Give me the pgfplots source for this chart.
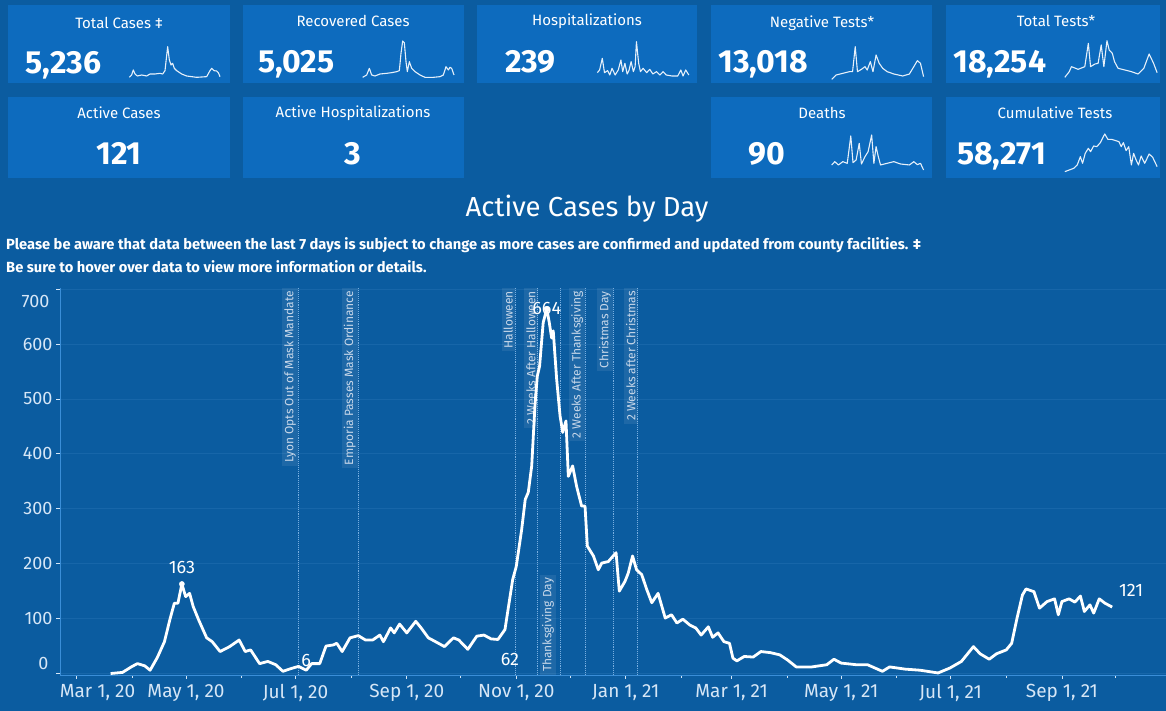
\documentclass[border=0pt]{standalone}
\usepackage{fontspec}
\setmainfont{Fira Sans}
\usepackage{pgfplots}
\pgfplotsset{compat=1.18}
\definecolor{pagebg}{HTML}{0B5CA0}
\definecolor{cardbg}{HTML}{0D6BBE}
\definecolor{axisc}{HTML}{3A8ED8}
\definecolor{gridc}{HTML}{1766A9}
\definecolor{tickc}{HTML}{D6E6F6}
\definecolor{evline}{HTML}{78AEE0}
\definecolor{evtext}{HTML}{C8D8EA}
\definecolor{sparkc}{HTML}{E6F0FA}

\tikzset{evlab/.style={font=\fontsize{12}{14}\selectfont, text=evtext, fill=white, fill opacity=0.08, text opacity=1, inner xsep=3pt, inner ysep=2pt, rotate=90},
  dlab/.style={text=white, font=\fontsize{18}{21}\selectfont},
  ctitle/.style={text=white, font=\fontsize{15}{18}\selectfont},
  cval/.style={text=white, font=\fontsize{32}{36}\selectfont\bfseries, inner sep=0pt}}

% #1 left x (pt), #2 bottom y (pt, from page bottom), #3 width, #4 height, #5-#8 limits, #9 data
\newcommand{\spark}[9]{%
  \begin{axis}[at={(#1pt,#2pt)}, anchor=south west, width=#3pt, height=#4pt,
    scale only axis, hide axis, xmin=#5, xmax=#6, ymin=#7, ymax=#8, clip=false]
    \addplot[sparkc, line width=1.1pt, line join=round] coordinates {#9};
  \end{axis}}

\begin{document}
\begin{tikzpicture}[x=1pt,y=1pt]
\useasboundingbox (0,0) rectangle (1166,711);
\fill[pagebg] (0,0) rectangle (1166,711);
\foreach \a/\b/\c/\d in {8/5/230/83, 243/5/464/83, 477/5/697/83, 711/5/932/83, 946/5/1160/83, 8/97/230/178, 243/97/464/178, 711/97/932/178, 946/97/1160/178}
  \fill[cardbg] (\a,{711-\b}) rectangle (\c,{711-\d});

\node[ctitle] at (119,{711-23}) {Total Cases ‡};
\node[ctitle] at (353,{711-21}) {Recovered Cases};
\node[ctitle] at (587,{711-21}) {Hospitalizations};
\node[ctitle] at (822,{711-23}) {Negative Tests*};
\node[ctitle] at (1056,{711-21}) {Total Tests*};
\node[ctitle] at (119,{711-113}) {Active Cases};
\node[ctitle] at (353,{711-113}) {Active Hospitalizations};
\node[ctitle] at (822,{711-113}) {Deaths};
\node[ctitle] at (1055,{711-113}) {Cumulative Tests};

\node[cval, anchor=base west] at (25,{711-74}) {5,236};
\node[cval, anchor=base west] at (258,{711-73}) {5,025};
\node[cval, anchor=base west] at (505,{711-73}) {239};
\node[cval, anchor=base west] at (718,{711-73}) {13,018};
\node[cval, anchor=base west] at (953,{711-73}) {18,254};
\node[cval, anchor=base] at (119,{711-165}) {121};
\node[cval, anchor=base] at (353,{711-165}) {3};
\node[cval, anchor=base] at (767,{711-165}) {90};
\node[cval, anchor=base west] at (957,{711-165}) {58,271};

% sparklines
\spark{128.33}{631}{91.67}{40}{385}{660}{0}{120}{(388,8) (395,15) (400,30) (405,18) (412,12) (425,15) (440,12) (450,18) (465,18) (480,20) (488,18) (495,28) (503,100) (508,60) (513,45) (518,50) (523,35) (530,28) (545,18) (560,12) (590,8) (620,10) (630,28) (635,35) (642,28) (650,27) (655,22) (660,10)}
\spark{361.67}{631}{93.33}{40}{1085}{1365}{0}{120}{(1088,8) (1100,15) (1108,35) (1115,15) (1125,12) (1140,18) (1160,20) (1175,22) (1190,25) (1198,28) (1203,80) (1208,117) (1213,112) (1218,55) (1222,25) (1228,55) (1235,35) (1245,25) (1260,15) (1275,8) (1300,8) (1320,10) (1330,15) (1338,40) (1345,30) (1350,38) (1355,35) (1362,15)}
\spark{596.5}{631}{93.2}{40}{285}{495}{0}{120}{(287,22) (292,30) (298,65) (303,22) (310,28) (315,15) (320,35) (327,15) (334,30) (340,60) (344,25) (349,50) (354,18) (358,28) (363,55) (368,25) (372,40) (375,115) (380,50) (384,25) (390,35) (398,22) (405,32) (412,18) (420,25) (428,15) (435,25) (442,15) (455,12) (468,12) (475,30) (480,12) (486,30) (493,15)}
\spark{831.7}{631}{93.2}{40}{815}{1025}{0}{120}{(815,2) (825,15) (840,20) (855,25) (862,25) (868,100) (873,25) (882,32) (890,40) (895,30) (902,55) (908,25) (915,75) (922,50) (930,35) (940,25) (955,18) (975,12) (990,18) (1000,40) (1008,58) (1015,50) (1022,10)}
\spark{1064.8}{631}{93.2}{40}{1340}{1550}{0}{120}{(1340,8) (1350,25) (1355,40) (1370,32) (1385,40) (1393,110) (1398,40) (1408,48) (1415,50) (1422,105) (1428,40) (1435,118) (1440,90) (1447,80) (1452,55) (1460,35) (1475,30) (1490,25) (1505,18) (1518,35) (1530,78) (1540,50) (1548,22)}
\spark{831.7}{537.67}{93.2}{43.33}{815}{1025}{0}{130}{(815,25) (822,35) (830,25) (840,35) (850,30) (858,112) (863,32) (870,40) (877,90) (882,28) (890,50) (897,65) (905,115) (910,30) (915,80) (920,50) (925,25) (940,30) (955,35) (970,28) (990,25) (1000,35) (1008,26) (1015,30) (1022,10)}
\spark{1064.8}{537.67}{93.2}{43.33}{1340}{1550}{0}{130}{(1340,5) (1350,10) (1360,15) (1368,25) (1375,50) (1380,30) (1386,60) (1393,75) (1398,65) (1405,82) (1412,80) (1420,92) (1430,118) (1437,102) (1445,102) (1455,98) (1462,95) (1467,80) (1472,92) (1478,68) (1484,80) (1490,25) (1495,60) (1500,42) (1506,25) (1512,52) (1520,30) (1530,58) (1538,48) (1548,20)}

% chart title and notes
\node[text=white, font=\fontsize{27.5}{32}\selectfont] at (587,{711-209}) {Active Cases by Day};
\node[anchor=west, text=white, inner sep=0pt, font=\fontsize{14.7}{17}\selectfont\bfseries] at (6,{711-245}) {Please be aware that data between the last 7 days is subject to change as more cases are confirmed and updated from county facilities. ‡};
\node[anchor=west, text=white, inner sep=0pt, font=\fontsize{14.7}{17}\selectfont\bfseries] at (6,{711-267}) {Be sure to hover over data to view more information or details.};

\begin{axis}[at={(60pt,36pt)}, anchor=south west, width=1106pt, height=387pt, scale only axis,
  xmin=-9.2, xmax=607, ymin=-2.7, ymax=702, clip=false,
  axis lines*=left, axis line style={color=axisc, line width=0.9pt},
  tick align=outside, major tick length=4pt, minor tick length=3pt,
  tick style={color=tickc, line width=0.8pt},
  ymajorgrids, major grid style={color=gridc, line width=0.8pt},
  ytick={0,100,...,700}, yticklabels={{},100,200,300,400,500,600,{}},
  xtick={0,61,122,184,245,306,365,426,487,549},
  xticklabels={{\hspace*{42pt}Mar 1, 20},{May 1, 20},{Jul 1, 20},{Sep 1, 20},{Nov 1, 20},{Jan 1, 21},{Mar 1, 21},{May 1, 21},{Jul 1, 21},{Sep 1, 21}},
  minor xtick={31,92,153,214,275,337,396,457,518,579},
  xticklabel style={text=tickc, font=\fontsize{19}{22}\selectfont, yshift=-2pt},
  yticklabel style={text=tickc, font=\fontsize{18}{21}\selectfont},
]
% event lines
\addplot[evline, densely dotted, line width=0.9pt] coordinates {(123.4,-2.7) (123.4,702)};
\addplot[evline, densely dotted, line width=0.9pt] coordinates {(156.8,-2.7) (156.8,702)};
\addplot[evline, densely dotted, line width=0.9pt] coordinates {(244.3,-2.7) (244.3,702)};
\addplot[evline, densely dotted, line width=0.9pt] coordinates {(257,-2.7) (257,702)};
\addplot[evline, densely dotted, line width=0.9pt] coordinates {(269.4,-2.7) (269.4,702)};
\addplot[evline, densely dotted, line width=0.9pt] coordinates {(283.5,-2.7) (283.5,702)};
\addplot[evline, densely dotted, line width=0.9pt] coordinates {(299,-2.7) (299,702)};
\addplot[evline, densely dotted, line width=0.9pt] coordinates {(312.7,-2.7) (312.7,702)};
\node[evlab, anchor=south east] at (axis cs:123.4,702) {Lyon Opts Out of Mask Mandate};
\node[evlab, anchor=south east] at (axis cs:156.8,702) {Emporia Passes Mask Ordinance};
\node[evlab, anchor=south east] at (axis cs:244.3,702) {Halloween};
\node[evlab, anchor=south east] at (axis cs:257,702) {2 Weeks After Halloween};
\node[evlab, anchor=south west, yshift=4pt] at (axis cs:269.4,-2.7) {Thanksgiving Day};
\node[evlab, anchor=south east] at (axis cs:283.5,702) {2 Weeks After Thanksgiving};
\node[evlab, anchor=south east] at (axis cs:299,702) {Christmas Day};
\node[evlab, anchor=south east] at (axis cs:312.7,702) {2 Weeks after Christmas};

\addplot[white, line width=2.8pt, line join=round] coordinates {
(19,0) (25.6,2) (31,13) (34,18) (38,14) (41,6) (45,29) (49,58) (52,98) (54.5,128) (56.5,128) (58.7,163) (60.8,140) (63,146) (65,122) (68,98) (72.5,65) (75.6,58) (80,40) (85.3,49) (90.6,61) (94,40) (97,43) (102,18) (106.6,22) (111,16) (115,4) (119.5,9) (123.7,13) (128,6) (131,18) (135.5,18) (139,50) (143,52) (145,55) (148,40) (152.4,65) (157,69) (161,61) (165,61) (169,70) (171,58) (175,83) (177,74) (180,90) (184,74) (189,95) (192,83) (196,65) (200,58) (205,49) (210,65) (213,61) (218,44) (223,68) (227,70) (231,63) (234.8,62)
(238.7,80) (243,171) (245,195) (248,262) (250,317) (251.7,330) (253.6,378) (255.4,487) (256.7,541) (258,560) (260,639) (262,664) (263.4,639) (264.7,611) (265.6,624) (267.5,536) (269.4,469) (270.9,439) (272.7,460) (274,359) (276.4,378) (278.6,341) (281.4,305) (283.3,305) (284.6,232) (288,214) (290.7,189) (292.6,201) (296.3,204) (300.6,220) (302.4,150) (305.6,168) (307.4,183) (309.8,214) (312,189) (314.9,180) (317.7,153) (320.5,129)
(324,146) (328,101) (331.5,107) (334.5,92) (337.8,99) (341.8,88) (345,83) (348,70) (352,85) (354.4,66) (357.4,74) (360.7,58) (363.8,55) (365.7,28) (367.9,23) (372,31) (377,30) (381.3,40) (386.6,38) (391.8,34) (396,25) (401,12) (409.6,12) (418,16) (422,26) (426,19) (434.5,16) (440.7,16) (449,4) (453,12) (461.6,8) (470,6) (480,1) (486.6,10) (493,22) (496,34) (499.7,49) (503.4,36) (508.5,26) (512.6,36) (518,43) (521,55) (524,101) (527,143) (529,154) (533.4,149) (536.5,119) (540.7,131) (544.9,136) (547,107) (549,131) (553,136) (556.2,130) (559.3,141) (561.5,113) (564.6,125) (566.7,110) (569.8,136) (573,128) (577,121)
};
\addplot[only marks, mark=*, mark size=2.6pt, white] coordinates {(58.7,163) (262,664)};

\node[dlab, yshift=17pt] at (axis cs:58.7,163) {163};
\node[dlab] at (axis cs:262,664) {664};
\node[dlab, yshift=10pt] at (axis cs:128,6) {6};
\node[dlab, xshift=12pt, yshift=-20pt] at (axis cs:234.8,62) {62};
\node[dlab, xshift=19pt, yshift=17pt] at (axis cs:577,121) {121};

\node[anchor=east, text=tickc, font=\fontsize{18}{21}\selectfont, xshift=-8pt, yshift=10pt] at (axis cs:-9.2,0) {0};
\node[anchor=east, text=tickc, font=\fontsize{18}{21}\selectfont, xshift=-7pt, yshift=-12pt] at (axis cs:-9.2,700) {700};
\end{axis}
\end{tikzpicture}
\end{document}
